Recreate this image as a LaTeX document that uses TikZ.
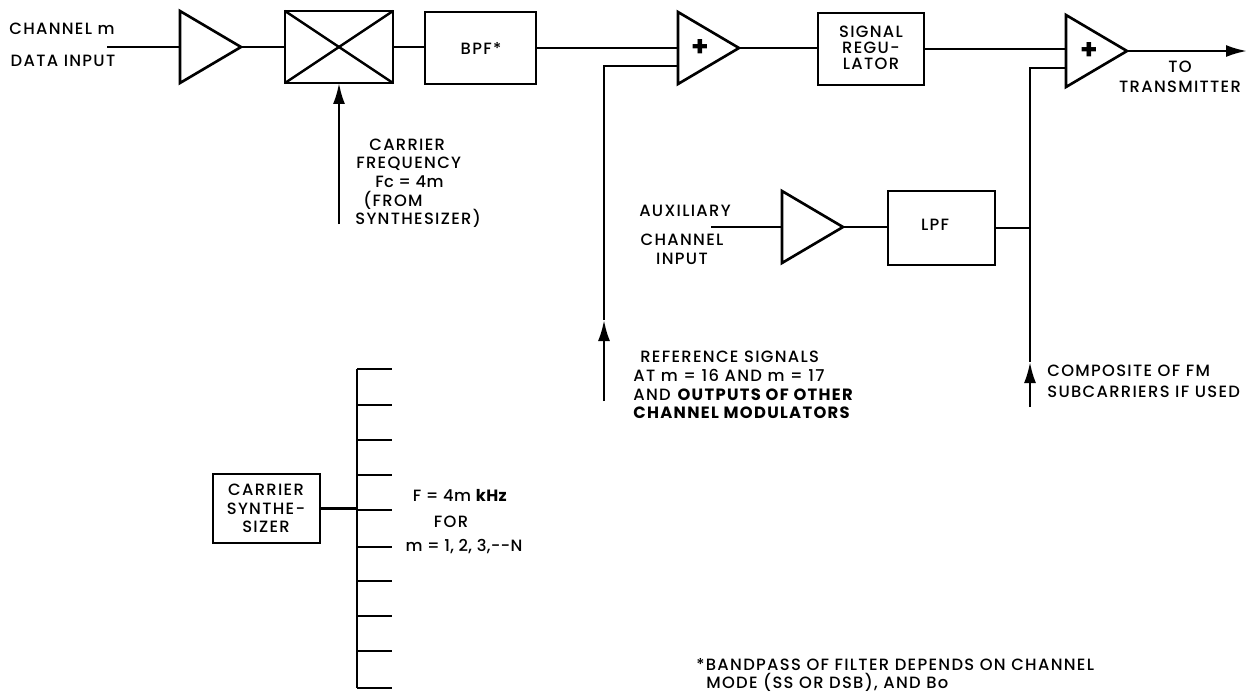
\documentclass[tikz,border=0pt]{standalone}
\usepackage{fontspec}
\setmainfont{Poppins}[UprightFont=* Medium,BoldFont=* Bold]
\usetikzlibrary{arrows.meta,shapes.geometric}
\tikzset{
  wire/.style={line width=1.4pt},
  blockbox/.style={draw,line width=1.6pt,inner sep=0pt,outer sep=0pt,align=center},
  amptri/.style={draw,line width=1.5pt,isosceles triangle,isosceles triangle stretches,
    inner sep=0pt,outer sep=0pt,minimum width=1.44cm,minimum height=1.22cm,anchor=lower side},
  lbl/.style={font=\fontsize{9.3}{10.5}\selectfont\addfontfeatures{LetterSpace=8},align=center,inner sep=0pt},
  lbltight/.style={font=\fontsize{9.3}{10.5}\selectfont\addfontfeatures{LetterSpace=2},align=center,inner sep=0pt},
  plussign/.style={font=\fontsize{16}{16}\selectfont\bfseries,inner sep=0pt}
}
\begin{document}
\begin{tikzpicture}[x=0.02cm,y=-0.02cm,>={Latex[length=0.42cm,width=0.24cm]}]
\useasboundingbox (0,0) rectangle (1254,694);
% top chain
\node[amptri] (ampa) at (180,47) {};
\node[blockbox,minimum width=2.16cm,minimum height=1.44cm] (mixer) at (339,47) {};
\node[blockbox,minimum width=2.22cm,minimum height=1.44cm] (bpf) at (480.5,48) {};
\node[amptri] (suma) at (678,48) {};
\node[blockbox,minimum width=2.12cm,minimum height=1.44cm] (regul) at (871,49) {};
\node[amptri] (sumb) at (1066,51) {};
\node[plussign] (plusa) at (700,48) {+};
\node[plussign] (plusb) at (1089,51) {+};
\draw[wire] (mixer.north west) -- (mixer.south east);
\draw[wire] (mixer.south west) -- (mixer.north east);
% auxiliary chain
\node[amptri] (ampb) at (782,227) {};
\node[blockbox,minimum width=2.14cm,minimum height=1.48cm] (lpf) at (941.5,228) {};
% synthesizer
\node[blockbox,minimum width=2.14cm,minimum height=1.38cm] (synth) at (266.5,508.5) {};
\coordinate (busa) at (357,369);
\coordinate (busb) at (357,688);
\coordinate (chanin) at (107,47);
\coordinate (auxin) at (711,227);
\coordinate (txout) at (1247,51);
\coordinate (carrin) at (339,224);
\coordinate (refin) at (604,401);
\coordinate (reftip) at (604,320);
\coordinate (compin) at (1030,407);
\coordinate (comptip) at (1030,362);
% connectors
\draw[wire] (chanin) -- (ampa.lower side);
\draw[wire] (ampa.apex) -- (mixer.west |- ampa.apex);
\draw[wire] (mixer.east) -- (bpf.west |- mixer.east);
\draw[wire] (bpf.east) -- (bpf.east -| suma.lower side);
\draw[wire] (suma.apex) -- (regul.west |- suma.apex);
\draw[wire] (regul.east) -- (regul.east -| sumb.lower side);
\draw[wire,->] (sumb.apex) -- (txout);
\draw[wire,->] (carrin) -- (mixer.south);
\draw[wire,->] (refin) -- (reftip);
\draw[wire] (reftip) |- ([yshift=-0.36cm]suma.lower side);
\draw[wire,->] (compin) -- (comptip);
\draw[wire] (comptip) |- ([yshift=-0.34cm]sumb.lower side);
\draw[wire] (auxin) -- (ampb.lower side);
\draw[wire] (ampb.apex) -- (lpf.west |- ampb.apex);
\draw[wire] (lpf.east) -- (lpf.east -| compin);
\draw[wire] (busa) -- (busb);
\draw[wire] (synth.east) -- (synth.east -| busa);
\foreach \ty in {369,405,440,475,510,547,581,616,651,688}
  \draw[wire] (357,\ty) -- (392,\ty);
% labels
\node[lbl] (lblbpf) at (481,48) {BPF*};
\node[lbl] (lblchan) at (62,28.5) {CHANNEL m};
\node[lbl] (lbldata) at (63,61) {DATA INPUT};
\node[lbl,anchor=west,align=left] (lblcarr) at (355,183.5) {\hspace*{0.28cm}CARRIER\\[-0.5pt]\hspace*{0.02cm}FREQUENCY\\[0.3pt]\hspace*{0.4cm}{\addfontfeatures{LetterSpace=2}Fc = 4m}\\[0.3pt]\hspace*{0.16cm}(FROM\\[0.3pt]SYNTHESIZER)};
\node[lbl] (lblreg) at (871,48) {SIGNAL\\[-1.5pt]REGU-\\[-1.5pt]LATOR};
\node[lbl] (lbllpf) at (935,225) {LPF};
\node[lbl] (lbltx) at (1180,76.5) {TO\\[0.8pt]TRANSMITTER};
\node[lbl] (lblaux) at (685,211) {AUXILIARY};
\node[lbl] (lblinp) at (682,249.5) {CHANNEL\\INPUT};
\node[lbl] (lblsyn) at (266,508.5) {CARRIER\\SYNTHE-\\SIZER};
\node[lbltight] (lblf) at (460,495) {F = 4m \textbf{kHz}};
\node[lbl] (lblfor) at (451,522) {FOR};
\node[lbltight] (lblm) at (464,547) {m = 1, 2, 3,-{}-N};
\node[lbl,anchor=west,align=left] (lblrefa) at (633,385) {\hspace*{0.14cm}REFERENCE SIGNALS\\[0.3pt]AT m = 16 AND m = 17\\[0.3pt]AND \textbf{OUTPUTS OF OTHER}\\\textbf{CHANNEL MODULATORS}};
\node[lbl,anchor=west,align=left] (lblcomp) at (1047,381.5) {COMPOSITE OF FM\\[1.5pt]SUBCARRIERS IF USED};
\node[lbl,anchor=west,align=left] (lblnote) at (696,675) {*BANDPASS OF FILTER DEPENDS ON CHANNEL\\\hspace*{0.2cm}MODE (SS OR DSB), AND Bo};
\end{tikzpicture}
\end{document}
